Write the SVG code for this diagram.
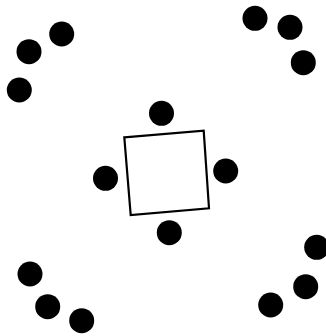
<svg xmlns="http://www.w3.org/2000/svg" width="326" height="336" viewBox="0 0 326 336">
<style>
.dot{fill:#000}
.box{fill:#fff;stroke:#000;stroke-width:2.2}
</style>
<rect width="326" height="336" fill="#fff"/>
<g id="connectors"></g>
<g id="table"><polygon class="box" points="124.3,137.3 203.7,130.7 209,208.3 130.7,215"/></g>
<g id="seat-top"><circle class="dot" cx="161.5" cy="113.3" r="12.5"/></g>
<g id="seat-left"><circle class="dot" cx="105.5" cy="178.3" r="12.5"/></g>
<g id="seat-right"><circle class="dot" cx="225.7" cy="171" r="12.5"/></g>
<g id="seat-bottom"><circle class="dot" cx="169.3" cy="232.7" r="12.5"/></g>
<g id="tl-1"><circle class="dot" cx="61.7" cy="34" r="12.5"/></g>
<g id="tl-2"><circle class="dot" cx="29" cy="51.7" r="12.5"/></g>
<g id="tl-3"><circle class="dot" cx="19.3" cy="90" r="12.5"/></g>
<g id="tr-1"><circle class="dot" cx="255" cy="18.3" r="12.5"/></g>
<g id="tr-2"><circle class="dot" cx="290" cy="27.3" r="12.5"/></g>
<g id="tr-3"><circle class="dot" cx="303.3" cy="62.7" r="12.5"/></g>
<g id="bl-1"><circle class="dot" cx="30" cy="274" r="12.5"/></g>
<g id="bl-2"><circle class="dot" cx="47.7" cy="306.7" r="12.5"/></g>
<g id="bl-3"><circle class="dot" cx="81.7" cy="320.7" r="12.5"/></g>
<g id="br-1"><circle class="dot" cx="316.7" cy="247.3" r="12.5"/></g>
<g id="br-2"><circle class="dot" cx="305.7" cy="286.7" r="12.5"/></g>
<g id="br-3"><circle class="dot" cx="270.7" cy="305" r="12.5"/></g>
</svg>
